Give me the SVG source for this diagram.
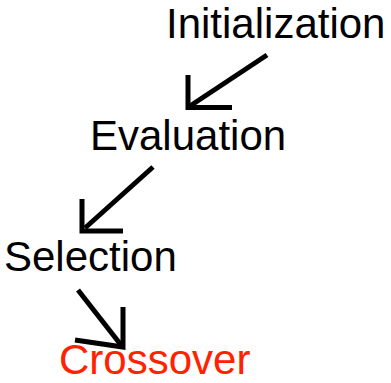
<svg xmlns="http://www.w3.org/2000/svg" width="391" height="383" viewBox="0 0 391 383">
  <style>
    .label { font-family: "Liberation Sans", Arial, Helvetica, sans-serif; font-size: 42px; fill: #000; }
    .active { fill: #ff2200; }
    .arrow { fill: none; stroke: #000; stroke-width: 5; stroke-linecap: butt; stroke-linejoin: miter; }
  </style>
  <rect width="391" height="383" fill="#fff"/>

  <g id="initialization">
    <text class="label" x="166" y="38">Initialization</text>
  </g>
  <g id="evaluation">
    <text class="label" x="90" y="150">Evaluation</text>
  </g>
  <g id="selection">
    <text class="label" x="4" y="271">Selection</text>
  </g>
  <g id="crossover">
    <text class="label active" x="59" y="374">Crossover</text>
  </g>

  <g id="connectors">
    <!-- Initialization to Evaluation -->
    <path class="arrow" d="M267,55 L190,106"/>
    <path class="arrow" d="M188,75 L188,107.5 L232,107.5"/>
    <!-- Evaluation to Selection -->
    <path class="arrow" d="M153,167 L85,228"/>
    <path class="arrow" d="M82,199 L82,231 L123,231"/>
    <!-- Selection to Crossover -->
    <path class="arrow" d="M78,290 L121,345"/>
    <path class="arrow" d="M123,307 L123,347 L75,340"/>
  </g>
</svg>
